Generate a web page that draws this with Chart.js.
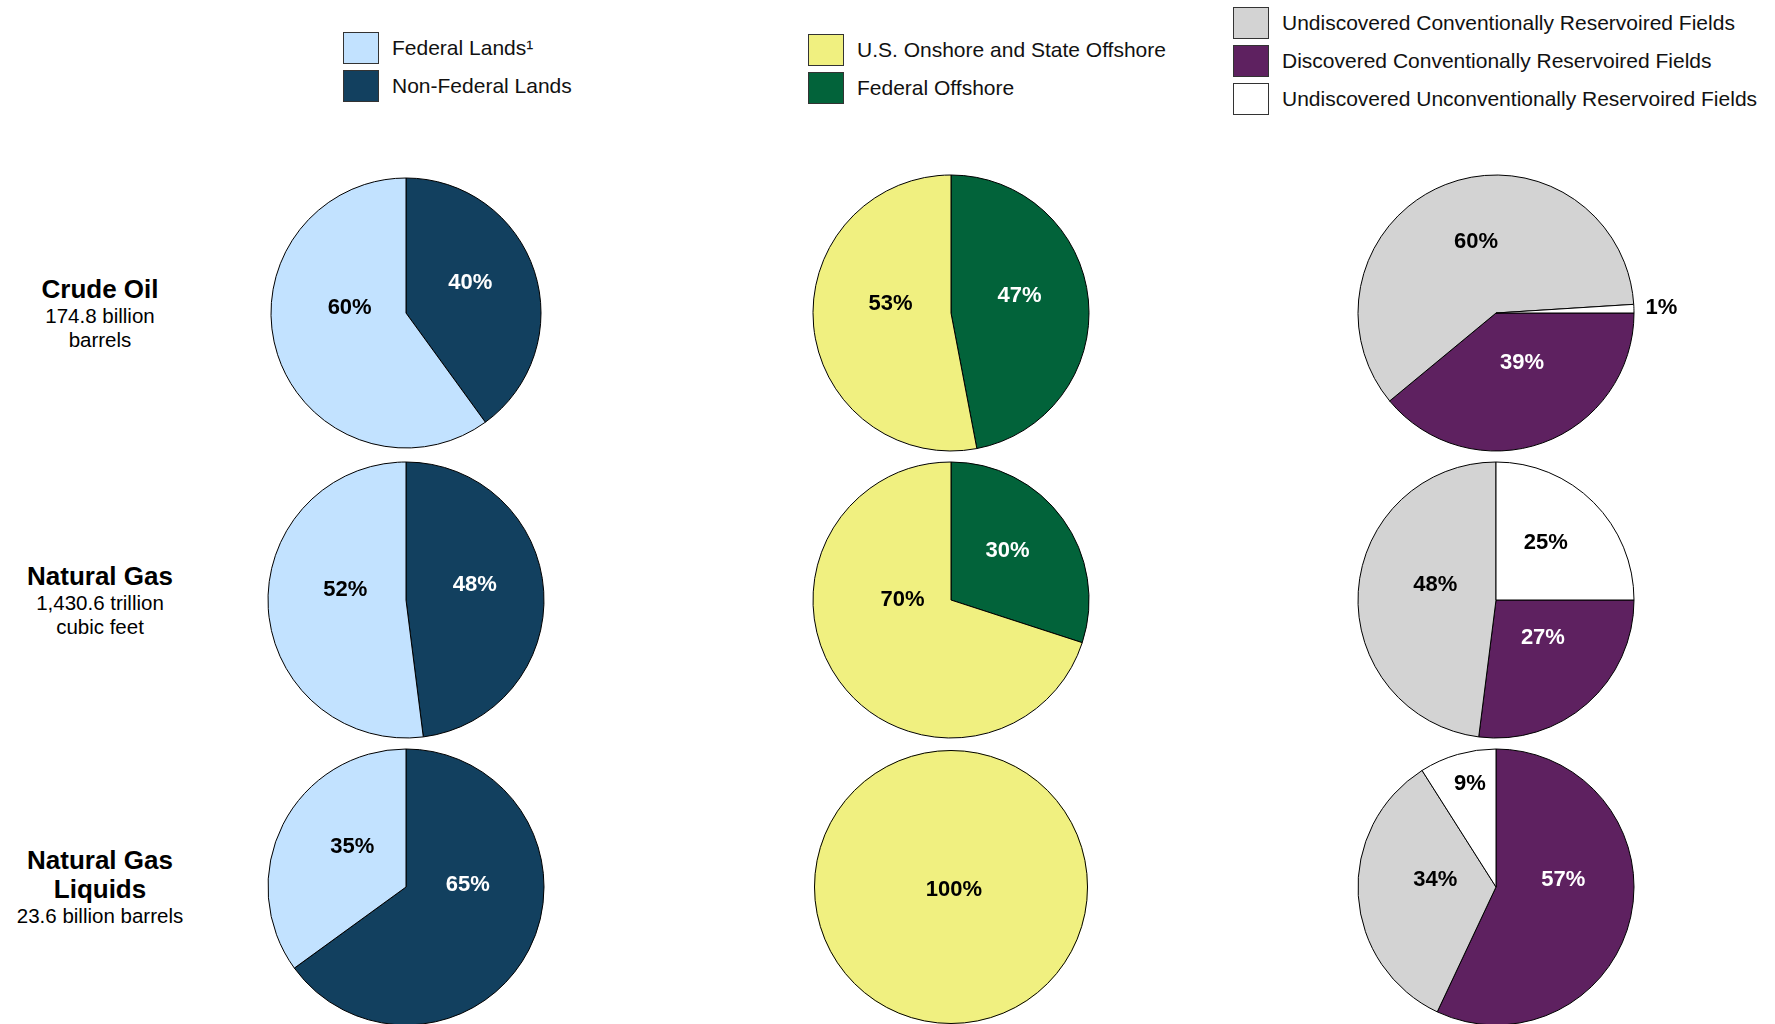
<!DOCTYPE html>
<html>
<head>
<meta charset="utf-8">
<script src="https://cdn.jsdelivr.net/npm/chart.js@4.4.1/dist/chart.umd.min.js"></script>
<style>
  body { margin: 0; background: #fff; font-family: "Liberation Sans", Arial, sans-serif; }
  #page { position: relative; width: 1775px; height: 1024px; overflow: hidden; background: #fff; }
  .legend { position: absolute; }
  .legend-row { display: flex; align-items: center; height: 32px; margin-bottom: 6px; }
  .swatch { box-sizing: border-box; width: 36px; height: 32px; border: 1.5px solid #333; margin-right: 13px; }
  .legend-row span { font-size: 21px; color: #111; white-space: nowrap; }
  .row-label { position: absolute; left: 0; width: 200px; text-align: center; transform: translateY(-50%); color: #000; }
  .row-label .name { font-weight: bold; font-size: 26px; line-height: 29px; }
  .row-label .unit { font-size: 20.5px; line-height: 24px; }
  canvas { position: absolute; }
</style>
</head>
<body>
<div id="page"></div>
<script>
// row captions
const rowNames = [['Crude Oil'], ['Natural Gas'], ['Natural Gas', 'Liquids']];
const rowUnits = [['174.8 billion', 'barrels'], ['1,430.6 trillion', 'cubic feet'], ['23.6 billion barrels']];

// column 1: land ownership (pie order)
const landLabels = ['Non-Federal Lands', 'Federal Lands¹'];
const landColors = ['#12405F', '#C2E2FF'];
const landText = ['#fff', '#000'];
const landValues = [[40, 60], [48, 52], [65, 35]];

// column 2: onshore / offshore
const areaLabels = ['Federal Offshore', 'U.S. Onshore and State Offshore'];
const areaColors = ['#02633A', '#F0F080'];
const areaText = ['#fff', '#000'];
const areaValues = [[47, 53], [30, 70], [0, 100]];

// column 3: field type
const fieldLabels = ['Discovered Conventionally Reservoired Fields', 'Undiscovered Conventionally Reservoired Fields', 'Undiscovered Unconventionally Reservoired Fields'];
const fieldColors = ['#5E2160', '#D3D3D3', '#FFFFFF'];
const fieldText = ['#fff', '#000', '#000'];
const fieldValues = [[39, 60, 1], [27, 48, 25], [57, 34, 9]];
const fieldRotation = [90, 90, 0];

// layout
const colX = [406, 951, 1496];
const rowY = [313, 600, 887];
const radii = [[135, 138, 138], [138, 138, 137], [138, 138, 138]];

const page = document.getElementById('page');

function makeLegend(left, top, labels, colors, order) {
    const box = document.createElement('div');
    box.className = 'legend';
    box.style.left = left + 'px';
    box.style.top = top + 'px';
    box.innerHTML = order.map(i => `
        <div class="legend-row">
            <div class="swatch" style="background:${colors[i]}"></div>
            <span>${labels[i]}</span>
        </div>`).join('');
    page.appendChild(box);
}

makeLegend(343, 32, landLabels, landColors, [1, 0]);
makeLegend(808, 34, areaLabels, areaColors, [1, 0]);
makeLegend(1233, 7, fieldLabels, fieldColors, [1, 0, 2]);

rowNames.forEach((name, r) => {
    const div = document.createElement('div');
    div.className = 'row-label';
    div.style.top = rowY[r] + 'px';
    div.innerHTML = name.map(t => `<div class="name">${t}</div>`).join('') +
        rowUnits[r].map(t => `<div class="unit">${t}</div>`).join('');
    page.appendChild(div);
});

// percentage labels drawn on each slice; full circles get a plain outline
const sliceLabels = {
    id: 'sliceLabels',
    afterDatasetsDraw(chart) {
        const { ctx } = chart;
        const ds = chart.data.datasets[0];
        const meta = chart.getDatasetMeta(0);
        const total = ds.data.reduce((a, b) => a + b, 0);
        ctx.save();
        meta.data.forEach((arc, i) => {
            const v = ds.data[i];
            if (!v) return;
            const { x, y, startAngle, endAngle, outerRadius } = arc.getProps(['x', 'y', 'startAngle', 'endAngle', 'outerRadius'], true);
            const share = v / total;
            const mid = (startAngle + endAngle) / 2;
            let px = x + 3, py = y + 3, color = ds.labelColors[i];
            if (share >= 0.999) {
                ctx.beginPath();
                ctx.arc(x, y, outerRadius - 0.5, 0, Math.PI * 2);
                ctx.strokeStyle = '#000';
                ctx.lineWidth = 1;
                ctx.stroke();
            } else {
                let f = 0.47, lift = 0.08 * outerRadius;
                if (share < 0.03) { f = 1.17; lift = 0; color = '#000'; }
                else if (share < 0.12) { f = 0.78; lift = 0; }
                let dy = Math.sin(mid) * f * outerRadius;
                // big slices reaching the lower half keep their label near the middle line
                if (share > 0.5 && dy > 0) dy *= 0.3;
                px = x + 4 + Math.cos(mid) * f * outerRadius;
                py = y + dy - lift;
            }
            ctx.font = 'bold 22px "Liberation Sans", Arial, sans-serif';
            ctx.textAlign = 'center';
            ctx.textBaseline = 'middle';
            ctx.fillStyle = color;
            ctx.fillText(v + '%', px, py);
        });
        ctx.restore();
    }
};

function makePie(col, row, labels, values, colors, textColors, rotation) {
    const r = radii[col][row];
    const canvas = document.createElement('canvas');
    const w = 420, h = 2 * r + 12;
    canvas.width = w;
    canvas.height = h;
    canvas.style.left = (colX[col] - w / 2) + 'px';
    canvas.style.top = (rowY[row] - h / 2) + 'px';
    page.appendChild(canvas);

    const total = values.reduce((a, b) => a + b, 0);
    new Chart(canvas, {
        type: 'pie',
        data: {
            labels: labels,
            datasets: [{
                data: values,
                backgroundColor: colors,
                borderColor: '#000',
                borderWidth: values.map(v => (v && v < total) ? 1 : 0),
                radius: r,
                labelColors: textColors
            }]
        },
        options: {
            responsive: false,
            animation: false,
            rotation: rotation,
            layout: { padding: 0 },
            plugins: { legend: { display: false }, tooltip: { enabled: false } }
        },
        plugins: [sliceLabels]
    });
}

for (let row = 0; row < 3; row++) {
    makePie(0, row, landLabels, landValues[row], landColors, landText, 0);
    makePie(1, row, areaLabels, areaValues[row], areaColors, areaText, 0);
    makePie(2, row, fieldLabels, fieldValues[row], fieldColors, fieldText, fieldRotation[row]);
}
</script>
</body>
</html>
